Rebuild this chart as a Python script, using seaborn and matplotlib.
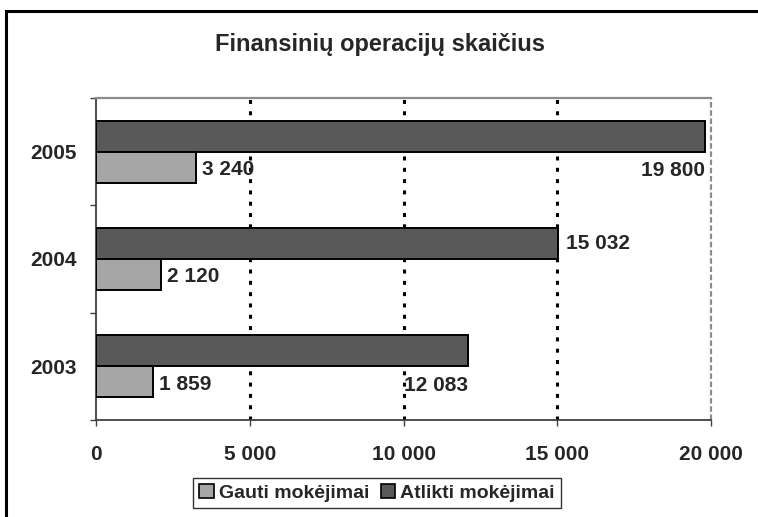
import matplotlib
matplotlib.use("Agg")
import matplotlib.pyplot as plt
import seaborn as sns
import pandas as pd
from matplotlib.patches import Patch, Rectangle

years = ["2005", "2004", "2003"]
gauti = [3240, 2120, 1859]
atlikti = [19800, 15032, 12083]
series_names = ["Gauti mokėjimai", "Atlikti mokėjimai"]
x_ticks = [0, 5000, 10000, 15000, 20000]
x_tick_labels = ["0", "5 000", "10 000", "15 000", "20 000"]
title = "Finansinių operacijų skaičius"

def fmt(v):
    return f"{v:,}".replace(",", " ")

sns.set_theme(style="white")
plt.rcParams["font.family"] = ["Liberation Sans", "DejaVu Sans"]
plt.rcParams["font.weight"] = "bold"

df = pd.DataFrame({
    "Metai": years * 2,
    "Reikšmė": atlikti + gauti,
    "Serija": [series_names[1]] * 3 + [series_names[0]] * 3,
})

c_light = "#A6A6A6"
c_dark = "#595959"
FS = 15

fig = plt.figure(figsize=(7.58, 5.17), dpi=100)
ax = fig.add_axes([96 / 758, 1 - 420 / 517, (711 - 96) / 758, (420 - 98) / 517])

sns.barplot(data=df, y="Metai", x="Reikšmė", hue="Serija", order=years,
            hue_order=[series_names[1], series_names[0]],
            palette={series_names[0]: c_light, series_names[1]: c_dark},
            orient="h", width=0.58, gap=0, edgecolor="black", linewidth=1.4,
            saturation=1, ax=ax, legend=False, zorder=3)

ax.set_xlim(0, 20000)
ax.set_ylim(2.5, -0.5)
ax.set_xlabel("")
ax.set_ylabel("")

# grid
for xv in x_ticks[1:-1]:
    ax.axvline(xv, color="black", lw=2.2, ls=(0, (1.3, 2.4)), zorder=1)
ax.axvline(20000, color="#8c8c8c", lw=1.6, ls=(0, (2.5, 1.2)), zorder=1, clip_on=False)

ax.spines["right"].set_visible(False)
ax.spines["top"].set_visible(True)
ax.spines["top"].set_color("#8c8c8c")
ax.spines["top"].set_linewidth(1.6)
ax.spines["left"].set_visible(True)
ax.spines["left"].set_color("#404040")
ax.spines["left"].set_linewidth(1.3)
ax.spines["bottom"].set_visible(True)
ax.spines["bottom"].set_color("#404040")
ax.spines["bottom"].set_linewidth(1.3)

ax.set_xticks(x_ticks)
ax.set_xticklabels(x_tick_labels, fontsize=FS, fontweight="bold")
ax.tick_params(axis="x", bottom=True, direction="out", length=4, width=1,
               color="#404040", pad=14)

ax.set_yticks([0, 1, 2])
ax.set_yticklabels(years, fontsize=FS, fontweight="bold")
ax.tick_params(axis="y", which="major", left=True, length=0, pad=14)
ax.set_yticks([-0.5, 0.5, 1.5, 2.5], minor=True)
ax.tick_params(axis="y", which="minor", left=True, direction="out", length=4,
               width=1, color="#404040")

# value labels
bw = 0.29
dark_label_mode = ["below", "right", "below"]
for i, (g, a) in enumerate(zip(gauti, atlikti)):
    yd = i - bw / 2
    yl = i + bw / 2
    ax.text(g + 200, yl + 0.02, fmt(g), ha="left", va="center", fontsize=FS,
            fontweight="bold", zorder=5)
    if dark_label_mode[i] == "below":
        ax.text(a, yl + 0.03, fmt(a), ha="right", va="center", fontsize=FS,
                fontweight="bold", zorder=5)
    else:
        ax.text(a + 250, yd, fmt(a), ha="left", va="center", fontsize=FS,
                fontweight="bold", zorder=5)

fig.text(380 / 758, 1 - 45 / 517, title, ha="center", va="center",
         fontsize=17, fontweight="bold")

handles = [Patch(facecolor=c_light, edgecolor="black", lw=1.2),
           Patch(facecolor=c_dark, edgecolor="black", lw=1.2)]
leg = fig.legend(handles, series_names, loc="center", ncol=2,
                 bbox_to_anchor=(377 / 758, 1 - 493 / 517), frameon=True,
                 fancybox=False, handlelength=0.75, handleheight=0.75,
                 handletextpad=0.25, columnspacing=0.6, borderpad=0.3,
                 borderaxespad=0, prop={"size": 14, "weight": "bold"})
leg.get_frame().set_edgecolor("black")
leg.get_frame().set_linewidth(1.0)

# outer border
fig.patches.append(Rectangle((6 / 758, -0.1), 1.2, 1 - 11 / 517 + 0.1,
                             transform=fig.transFigure, fill=False,
                             edgecolor="black", lw=2.2))

fig.savefig("out.png", dpi=100)
